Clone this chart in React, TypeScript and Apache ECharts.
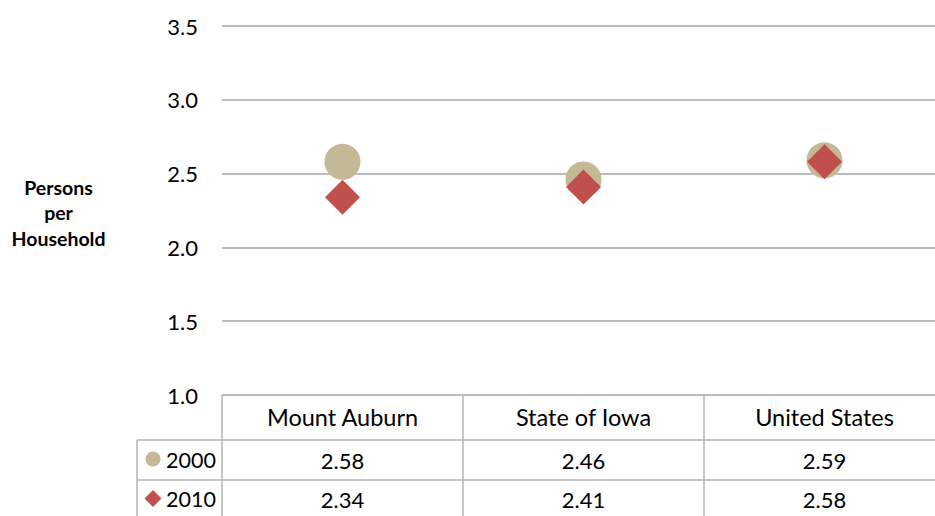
import React, { useEffect, useRef } from "react";
import * as echarts from "echarts";

const categories = ["Mount Auburn", "State of Iowa", "United States"];
const seriesNames = ["2000", "2010"];
const values2000 = [2.58, 2.46, 2.59];
const values2010 = [2.34, 2.41, 2.58];
const yTicks = { min: 1.0, max: 3.5, interval: 0.5 };
const yTitle = ["Persons", "per", "Household"];

const C2000 = "#C4B996";
const C2010 = "#C0504D";
const GRID = "#A6A6A6";
const TABLE = "#B4B4B4";
const FONT = "Lato, 'Open Sans', sans-serif";

export default function App() {
  const ref = useRef<HTMLDivElement>(null);
  useEffect(() => {
    if (!ref.current) return;
    const chart = echarts.init(ref.current, null, { renderer: "svg" });
    const left = 222;
    const top = 26;
    const width = 723;
    const height = 369;
    const axisY = top + height; // 395
    const row1 = axisY + 45; // 440
    const row2 = row1 + 40; // 480
    const legendLeft = 137;

    const tableAxis = (offset: number, len: number, labels: string[], margin: number, show: boolean, fontSize: number) => ({
      type: "category",
      data: categories,
      position: "bottom",
      offset,
      boundaryGap: true,
      axisLine: { show, lineStyle: { color: TABLE, width: 1.5 } },
      axisTick: { show: true, interval: 0, length: len, inside: false, lineStyle: { color: TABLE, width: 1.5 } },
      axisLabel: {
        interval: 0,
        margin,
        verticalAlign: "middle",
        fontSize,
        fontFamily: FONT,
        color: "#000",
        formatter: (_v: string, i: number) => labels[i],
      },
      splitLine: { show: false },
    });

    chart.setOption({
      animation: false,
      backgroundColor: "#fff",
      grid: { left, top, width, height, containLabel: false },
      xAxis: [
        tableAxis(0, 45, categories, 22, false, 23.5),
        tableAxis(45, 40, values2000.map((v) => v.toFixed(2)), 20, true, 22),
        tableAxis(85, 40, values2010.map((v) => v.toFixed(2)), 19, true, 22),
      ],
      yAxis: {
        type: "value",
        min: yTicks.min,
        max: yTicks.max,
        interval: yTicks.interval,
        axisLine: { show: false },
        axisTick: { show: false },
        axisLabel: {
          margin: 24,
          fontSize: 22,
          fontFamily: FONT,
          color: "#000",
          formatter: (v: number) => v.toFixed(1),
        },
        splitLine: { show: true, lineStyle: { color: GRID, width: 1.5 } },
      },
      series: [
        {
          name: seriesNames[0],
          type: "scatter",
          xAxisIndex: 0,
          data: values2000,
          symbol: "circle",
          symbolSize: 36,
          itemStyle: { color: C2000, opacity: 1 },
          z: 2,
        },
        {
          name: seriesNames[1],
          type: "scatter",
          xAxisIndex: 0,
          data: values2010,
          symbol: "diamond",
          symbolSize: 35,
          itemStyle: { color: C2010, opacity: 1 },
          z: 3,
        },
      ],
      graphic: [
        ...yTitle.map((t, i) => ({
          type: "text",
          x: 58.5,
          y: 187 + i * 25.5,
          style: {
            text: t,
            align: "center",
            verticalAlign: "middle",
            fontSize: 19.5,
            fontWeight: "bold",
            fontFamily: FONT,
            fill: "#000",
          },
        })),
        { type: "line", shape: { x1: legendLeft, y1: row1, x2: left, y2: row1 }, style: { stroke: TABLE, lineWidth: 1.5 } },
        { type: "line", shape: { x1: legendLeft, y1: row2, x2: left, y2: row2 }, style: { stroke: TABLE, lineWidth: 1.5 } },
        { type: "line", shape: { x1: legendLeft, y1: row1, x2: legendLeft, y2: 530 }, style: { stroke: TABLE, lineWidth: 1.5 } },
        { type: "circle", shape: { cx: 153, cy: 459, r: 7.5 }, style: { fill: C2000 } },
        { type: "polygon", shape: { points: [[153, 490], [161.5, 498.5], [153, 507], [144.5, 498.5]] }, style: { fill: C2010 } },
        {
          type: "text",
          x: 216,
          y: 460,
          style: { text: seriesNames[0], align: "right", verticalAlign: "middle", fontSize: 21.5, fontFamily: FONT, fill: "#000" },
        },
        {
          type: "text",
          x: 216,
          y: 499,
          style: { text: seriesNames[1], align: "right", verticalAlign: "middle", fontSize: 21.5, fontFamily: FONT, fill: "#000" },
        },
      ],
    });
    return () => chart.dispose();
  }, []);
  return (
    <div style={{ position: "fixed", left: 0, top: 0, width: 935, height: 516, overflow: "hidden", background: "#fff" }}>
      <div ref={ref} style={{ width: 950, height: 516 }} />
    </div>
  );
}
